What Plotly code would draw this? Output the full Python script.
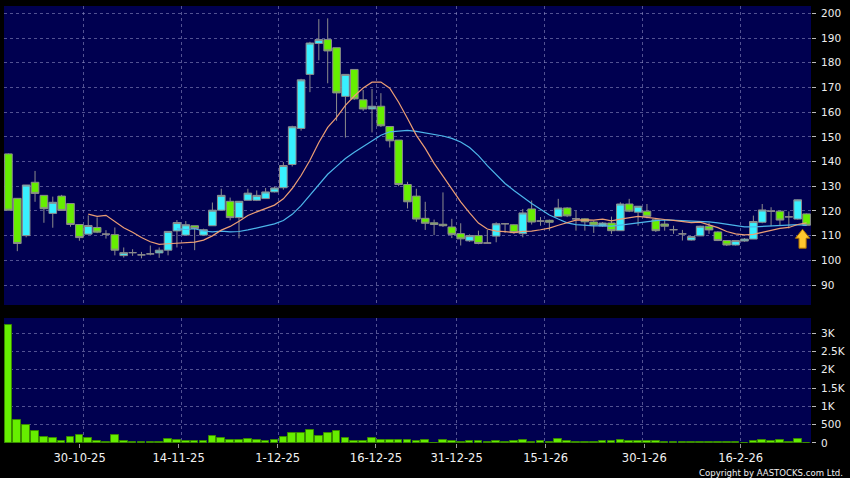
import plotly.graph_objects as go
import pandas as pd

# ---------------- data ----------------
tick_labels = ["30-10-25", "14-11-25", "1-12-25", "16-12-25",
               "31-12-25", "15-1-26", "30-1-26", "16-2-26"]

opens = [143.1, 125.1, 110.0, 131.6, 126.3, 119.0, 126.0, 123.0, 114.5, 110.6,
         113.3, 110.6, 110.4, 101.9, 103.1, 102.2, 102.6, 103.0, 104.1, 111.9,
         110.2, 114.0, 110.2, 114.0, 120.3, 123.9, 117.3, 124.3, 124.3, 125.0,
         127.7, 129.4, 138.8, 153.4, 175.3, 187.8, 189.4, 186.1, 166.4, 177.3,
         165.0, 161.3, 162.4, 154.2, 148.7, 130.7, 126.0, 117.0, 115.2, 114.6,
         113.5, 110.8, 107.9, 110.0, 107.0, 109.8, 114.8, 114.4, 110.8, 120.8,
         115.9, 116.2, 117.7, 121.2, 116.8, 116.8, 115.5, 113.9, 115.1, 112.0,
         122.8, 119.5, 119.9, 116.4, 114.7, 112.4, 110.7, 108.2, 109.9, 113.8,
         111.5, 108.0, 106.2, 107.8, 108.6, 115.4, 119.9, 119.9, 117.6, 116.7,
         118.8]
highs = [143.3, 125.1, 130.5, 136.2, 126.3, 125.8, 126.5, 123.0, 114.5, 118.2,
         117.4, 112.2, 113.3, 105.2, 104.5, 103.4, 106.0, 105.2, 111.7, 116.3,
         115.9, 114.0, 112.8, 123.4, 129.0, 125.4, 123.9, 129.0, 128.3, 129.3,
         129.8, 139.8, 154.5, 173.5, 188.5, 197.7, 198.0, 186.1, 175.3, 177.3,
         169.0, 169.4, 167.7, 154.2, 148.7, 131.8, 129.0, 123.7, 116.5, 127.5,
         116.8, 115.0, 110.5, 112.0, 112.3, 115.4, 115.0, 114.6, 120.8, 124.2,
         117.5, 116.5, 124.9, 121.5, 120.1, 117.0, 116.0, 115.5, 117.7, 123.5,
         124.9, 122.0, 122.8, 117.0, 116.3, 114.0, 112.3, 109.8, 114.0, 115.2,
         111.8, 108.2, 108.2, 109.0, 118.1, 122.8, 121.5, 120.0, 119.8, 124.6,
         119.0]
lows = [120.3, 103.7, 109.3, 123.7, 115.2, 113.2, 120.0, 113.6, 107.9, 110.6,
        111.0, 108.8, 102.0, 101.1, 101.8, 100.8, 102.0, 101.0, 102.0, 105.2,
        110.2, 104.1, 110.0, 114.0, 120.3, 116.2, 108.9, 124.3, 124.0, 125.0,
        127.5, 128.6, 138.0, 152.5, 168.1, 181.0, 171.7, 156.5, 149.7, 165.0,
        160.5, 151.8, 154.0, 145.7, 130.0, 121.0, 115.6, 112.3, 110.2, 113.5,
        109.0, 106.0, 107.5, 106.5, 107.0, 107.3, 111.1, 110.8, 109.3, 114.5,
        114.0, 112.0, 117.7, 117.5, 112.0, 112.0, 111.1, 113.5, 110.7, 112.0,
        119.5, 114.0, 117.0, 111.5, 112.0, 110.7, 108.0, 108.0, 109.9, 110.7,
        107.8, 105.8, 106.0, 107.5, 108.6, 115.0, 113.8, 114.0, 112.9, 116.5,
        114.0]
closes = [120.3, 106.8, 130.5, 127.1, 120.9, 123.5, 120.2, 114.5, 109.2, 114.1,
          111.4, 110.6, 104.1, 103.1, 103.1, 102.2, 102.6, 104.1, 111.7, 115.3,
          114.4, 112.9, 112.4, 120.3, 126.3, 117.3, 123.9, 127.2, 126.3, 127.7,
          129.3, 138.4, 154.1, 173.1, 188.0, 189.4, 184.8, 167.8, 175.3, 165.4,
          161.3, 162.4, 154.5, 148.4, 130.7, 123.7, 116.7, 115.0, 114.5, 114.0,
          110.5, 108.7, 110.0, 106.8, 107.0, 114.8, 114.8, 111.2, 119.2, 115.5,
          115.9, 115.4, 121.2, 118.0, 116.8, 115.6, 114.3, 115.1, 112.0, 122.8,
          119.9, 121.9, 117.8, 112.0, 113.8, 112.4, 110.7, 109.6, 113.8, 112.3,
          108.0, 106.2, 108.0, 108.6, 115.7, 120.4, 119.9, 116.3, 117.6, 124.5,
          114.2]
volumes = [3227, 636, 491, 336, 155, 127, 64, 173, 218, 136,
           64, 36, 218, 55, 36, 36, 36, 36, 109, 91,
           55, 55, 55, 182, 145, 91, 91, 118, 73, 55,
           73, 173, 264, 273, 355, 182, 264, 336, 136, 45,
           45, 127, 82, 82, 91, 73, 64, 82, 10, 91,
           55, 27, 55, 55, 36, 64, 36, 55, 82, 36,
           55, 27, 118, 45, 27, 36, 27, 64, 64, 73,
           45, 64, 45, 45, 27, 27, 18, 18, 18, 18,
           36, 18, 18, 9, 64, 91, 45, 82, 18, 118,
           5]

price_ticks = [90, 100, 110, 120, 130, 140, 150, 160, 170, 180, 190, 200]
vol_ticks = [0, 500, 1000, 1500, 2000, 2500, 3000]
vol_tick_text = ["0", "500", "1K", "1.5K", "2K", "2.5K", "3K"]

# ---------------- derived ----------------
x = list(range(len(closes)))
ma10 = pd.Series(closes).rolling(10).mean()
ma20 = pd.Series(closes).rolling(20).mean()

# ---------------- layout constants ----------------
label_pos = [8.03, 19.19, 30.36, 41.44, 50.54, 60.58, 71.7, 82.56]
grid_pos = [8.5, 19.5, 30.5, 41.5, 50.5, 60.5, 71.5, 82.5]
GRID = "rgba(150,150,200,0.55)"
NAVY = "#000050"
FONT = "DejaVu Sans"

fig = go.Figure()

fig.add_trace(go.Bar(
    x=x, y=volumes, xaxis="x2", yaxis="y2", width=0.86,
    marker=dict(color="#66EE00", line=dict(color="#3A8C00", width=1)),
    hoverinfo="skip"))

fig.add_trace(go.Candlestick(
    x=x, open=opens, high=highs, low=lows, close=closes,
    increasing=dict(fillcolor="#38F0FF", line=dict(color="#8C8C8C", width=1)),
    decreasing=dict(fillcolor="#66EE00", line=dict(color="#8C8C8C", width=1)),
    whiskerwidth=0, xaxis="x", yaxis="y"))

fig.add_trace(go.Scatter(x=x, y=ma20, mode="lines",
                         line=dict(color="#4DB6EA", width=1.2),
                         xaxis="x", yaxis="y", hoverinfo="skip"))
fig.add_trace(go.Scatter(x=x, y=ma10, mode="lines",
                         line=dict(color="#EC9E74", width=1.2),
                         xaxis="x", yaxis="y", hoverinfo="skip"))

# arrow marker under the latest candle (pixel-sized, anchored to data)
fig.add_shape(type="path", xref="x", yref="y",
              xsizemode="pixel", ysizemode="pixel",
              xanchor=x[-1], yanchor=lows[-1],
              path="M -4 -3.5 L 3.2 -12.5 L -0.4 -12.5 L -0.4 -22.5 "
                   "L -7.6 -22.5 L -7.6 -12.5 L -11.2 -12.5 Z",
              fillcolor="#FFC62E", line=dict(color="#A86A00", width=1),
              layer="above")

tickfont = dict(family=FONT, size=10.5, color="#EEEEEE")

fig.update_layout(
    width=850, height=478,
    margin=dict(l=4, r=36, t=6, b=35),
    paper_bgcolor="black", plot_bgcolor=NAVY,
    showlegend=False, boxgap=0.14, boxgroupgap=0, bargap=0,
    xaxis=dict(domain=[0, 1], anchor="y", range=[-0.5, 90.5],
               rangeslider=dict(visible=False),
               tickmode="array", tickvals=label_pos, showticklabels=False,
               ticks="", showgrid=False, zeroline=False, showline=False,
               minor=dict(tickmode="array", tickvals=grid_pos, showgrid=True,
                          gridcolor=GRID, griddash="3px,3px", gridwidth=1,
                          ticks="")),
    xaxis2=dict(domain=[0, 1], anchor="y2", range=[-0.5, 90.5], matches="x",
                tickmode="array", tickvals=label_pos, ticktext=tick_labels,
                ticks="outside", ticklen=4, tickcolor="#999999",
                ticklabelstandoff=0,
                tickfont=dict(family=FONT, size=11.5, color="#F2F2F2"),
                showgrid=False, zeroline=False, showline=False,
                minor=dict(tickmode="array", tickvals=grid_pos, showgrid=True,
                           gridcolor=GRID, griddash="3px,3px", gridwidth=1,
                           ticks="")),
    yaxis=dict(domain=[0.3158, 1], anchor="x", range=[81.9, 203], side="right",
               tickmode="array", tickvals=price_ticks,
               ticks="outside", ticklen=4, tickcolor="#BBBBBB",
               ticklabelstandoff=3,
               tickfont=tickfont, showgrid=True, gridcolor=GRID,
               griddash="3px,3px", gridwidth=1, zeroline=False, showline=False),
    yaxis2=dict(domain=[0, 0.286], anchor="x2", range=[0, 3415], side="right",
                tickmode="array", tickvals=vol_ticks, ticktext=vol_tick_text,
                ticks="outside", ticklen=4, tickcolor="#BBBBBB",
                ticklabelstandoff=3,
                tickfont=tickfont, showgrid=True, gridcolor=GRID,
                griddash="3px,3px", gridwidth=1, zeroline=False, showline=False),
    annotations=[dict(text="Copyright by AASTOCKS.com Ltd.", xref="paper",
                      yref="paper", x=1.042, y=-0.0665, xanchor="right",
                      yanchor="middle", showarrow=False,
                      font=dict(family="DejaVu Sans Condensed, DejaVu Sans",
                                size=9.5, color="#F2F2F2"))],
)

# the page body has a default 8px margin; remove it so the 850x478 figure
# fills the browser window exactly
fig.write_html("out.html",
               config={"displayModeBar": False},
               post_script="document.body.style.margin='0';"
                           "document.body.style.background='black';")
